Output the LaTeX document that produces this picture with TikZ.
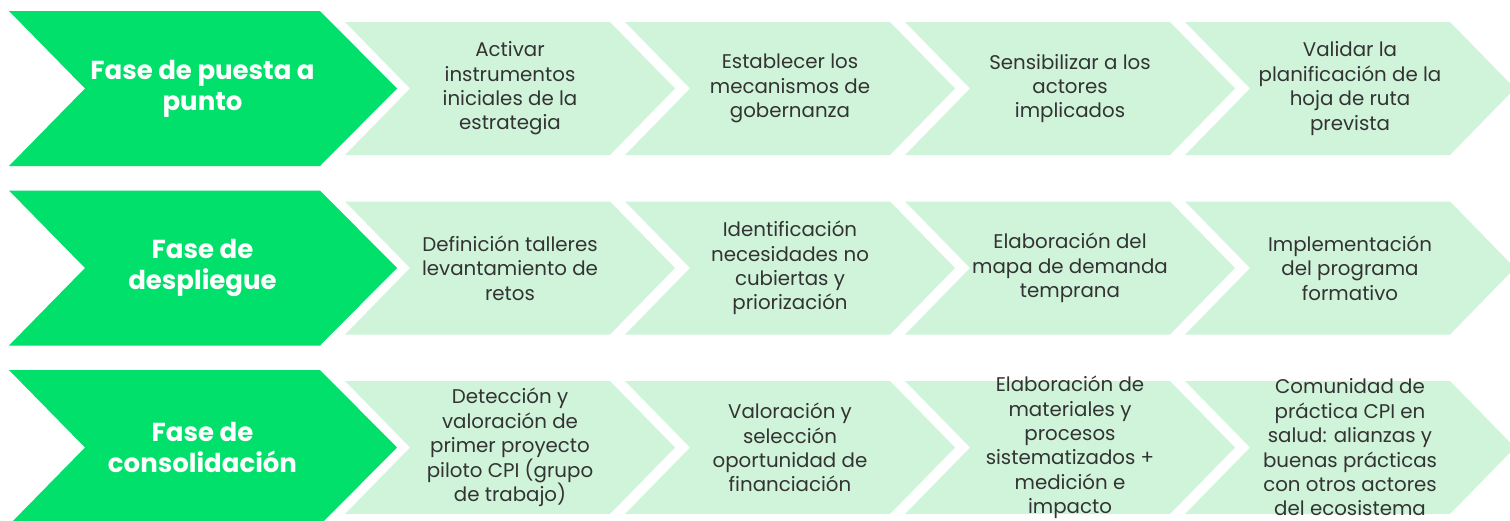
\documentclass[tikz,border=0pt]{standalone}
\usepackage{fontspec}
\setmainfont{Poppins}
\definecolor{phase}{HTML}{00E06B}
\definecolor{stepfill}{HTML}{D0F4DA}
\definecolor{txt}{HTML}{333333}
\begin{document}
\begin{tikzpicture}[x=1pt,y=1pt,
  phasetext/.style={text=white,font=\fontsize{26}{31}\selectfont\bfseries,align=center,inner sep=0pt},
  steptext/.style={text=txt,font=\fontsize{19.8}{24.4}\selectfont,align=center,inner sep=0pt}]
\useasboundingbox (0,0) rectangle (1510,-520);
\clip (0,0) rectangle (1510,-520);
% rows
\foreach \yc in {-88.5,-268,-447.5}{
  \fill[phase] (9,\yc+77.5) -- (320,\yc+77.5) -- (397,\yc) -- (320,\yc-77.5) -- (9,\yc-77.5) -- (85,\yc) -- cycle;
  \foreach \L in {345,625,905,1185}{
    \fill[stepfill] (\L,\yc+66.5) -- (\L+265,\yc+66.5) -- (\L+330,\yc) -- (\L+265,\yc-66.5) -- (\L,\yc-66.5) -- (\L+65,\yc) -- cycle;
  }
}
% row 1
\node[phasetext] (p1) at (202.5,-88.5) {Fase de puesta a\\punto};
\node[steptext] (a1) at (510,-88.5) {Activar\\instrumentos\\iniciales de la\\estrategia};
\node[steptext] (a2) at (790,-88.5) {Establecer los\\mecanismos de\\gobernanza};
\node[steptext] (a3) at (1070,-88.5) {Sensibilizar a los\\actores\\implicados};
\node[steptext] (a4) at (1350,-88.5) {Validar la\\planificación de la\\hoja de ruta\\prevista};
% row 2
\node[phasetext] (p2) at (202.5,-268) {Fase de\\despliegue};
\node[steptext] (b1) at (510,-268) {Definición talleres\\levantamiento de\\retos};
\node[steptext] (b2) at (790,-268) {Identificación\\necesidades no\\cubiertas y\\priorización};
\node[steptext] (b3) at (1070,-268) {Elaboración del\\mapa de demanda\\temprana};
\node[steptext] (b4) at (1350,-268) {Implementación\\del programa\\formativo};
% row 3
\node[phasetext] (p3) at (202.5,-447.5) {Fase de\\consolidación};
\node[steptext] (c1) at (510,-447.5) {Detección y\\valoración de\\primer proyecto\\piloto CPI (grupo\\de trabajo)};
\node[steptext] (c2) at (790,-447.5) {Valoración y\\selección\\oportunidad de\\financiación};
\node[steptext] (c3) at (1070,-447.5) {Elaboración de\\materiales y\\procesos\\sistematizados +\\medición e\\impacto};
\node[steptext] (c4) at (1350,-447.5) {Comunidad de\\práctica CPI en\\salud: alianzas y\\buenas prácticas\\con otros actores\\del ecosistema};
\end{tikzpicture}
\end{document}
